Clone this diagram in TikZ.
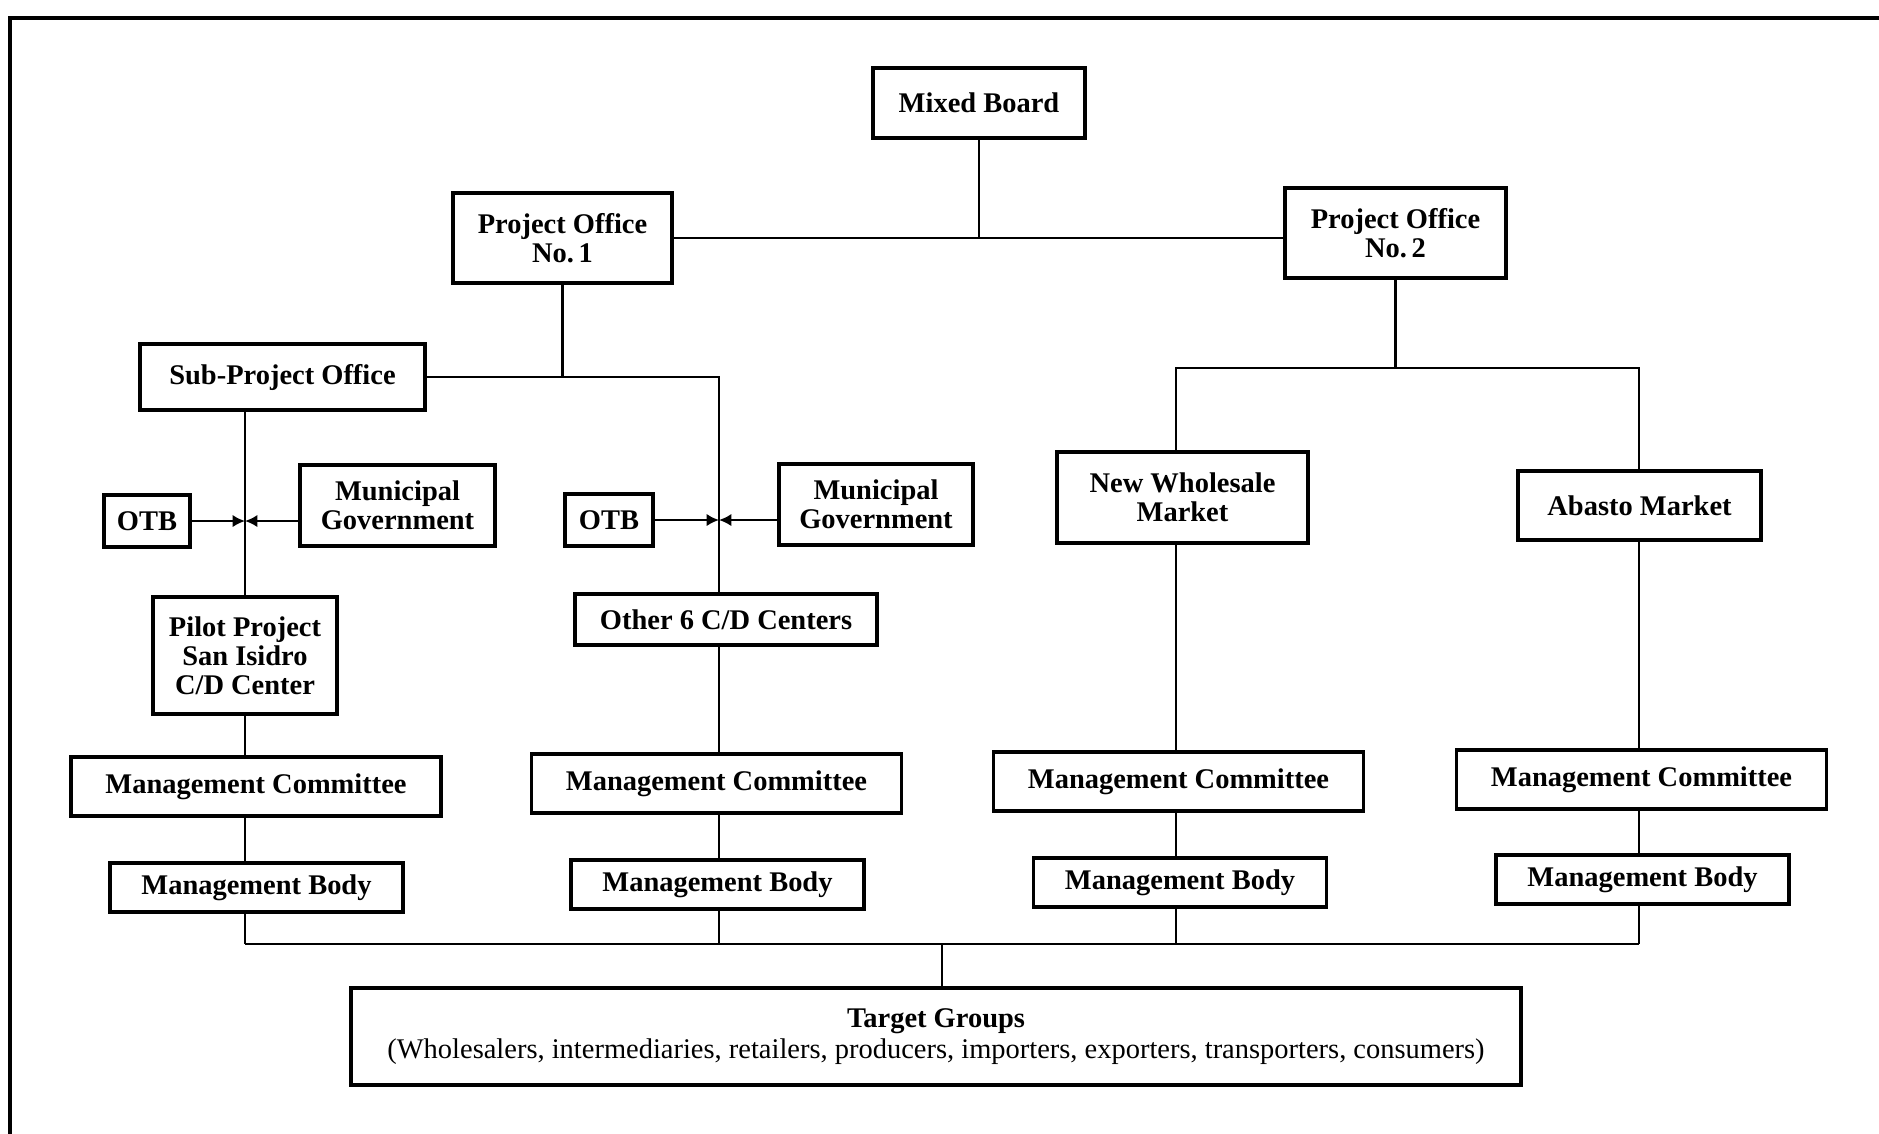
\documentclass[tikz,border=0pt]{standalone}
\usepackage{fontspec}
\setmainfont{Liberation Serif}
\usetikzlibrary{calc,positioning,arrows.meta}

\begin{document}
\begin{tikzpicture}[
  box/.style={draw, line width=0.9pt, inner sep=1pt, align=center,
    font=\fontsize{8.1}{8.3}\selectfont\bfseries},
  link/.style={line width=0.6pt},
  feed/.style={link, -{Latex[length=3.5pt,width=3.5pt]}}]
% page frame: 1 unit = 100 px of the scan, y runs downward
\useasboundingbox (0,0) rectangle (18.79,-11.33);
\draw[line width=1.3pt] (0.10,-11.40) -- (0.10,-0.18) -- (18.85,-0.18);
% Top of the chart
\node[box, minimum width=2.12cm, minimum height=0.70cm] (mixed) at (9.79,-1.03) {Mixed Board};
\node[box, minimum width=2.19cm, minimum height=0.90cm] (po1) at (5.625,-2.38) {Project Office\\No.\,1};
\node[box, minimum width=2.21cm, minimum height=0.90cm] (po2) at (13.955,-2.33) {Project Office\\No.\,2};
% Left branch: sub-project office and C/D centers
\node[box, minimum width=2.85cm, minimum height=0.66cm] (subpo) at (2.825,-3.77) {Sub-Project Office};
\node[box, minimum width=0.86cm, minimum height=0.52cm] (otbA) at (1.47,-5.21) {OTB};
\node[box, minimum width=1.95cm, minimum height=0.81cm] (munA) at (3.975,-5.055) {Municipal\\Government};
\node[box, minimum width=0.88cm, minimum height=0.52cm] (otbB) at (6.09,-5.20) {OTB};
\node[box, minimum width=1.94cm, minimum height=0.81cm] (munB) at (8.76,-5.045) {Municipal\\Government};
\node[box, minimum width=1.84cm, minimum height=1.17cm] (pilot) at (2.45,-6.555) {Pilot Project\\San Isidro\\C/D Center};
\node[box, minimum width=3.02cm, minimum height=0.51cm] (other6) at (7.26,-6.195) {Other 6 C/D Centers};
% Right branch: markets
\node[box, minimum width=2.51cm, minimum height=0.91cm] (nwm) at (11.825,-4.975) {New Wholesale\\Market};
\node[box, minimum width=2.43cm, minimum height=0.69cm] (abasto) at (16.395,-5.055) {Abasto Market};
% Committees and bodies, one per column
\foreach \i/\x/\y in {1/2.56/-7.865, 2/7.165/-7.835, 3/11.785/-7.815, 4/16.415/-7.795}
  \node[box, minimum width=3.70cm, minimum height=0.59cm] (mc\i) at (\x,\y) {Management Committee};
\foreach \i/\x/\y in {1/2.565/-8.875, 2/7.175/-8.845, 3/11.80/-8.825, 4/16.425/-8.795}
  \node[box, minimum width=2.93cm, minimum height=0.49cm] (mb\i) at (\x,\y) {Management Body};
\node[box, minimum width=11.70cm, minimum height=0.97cm, font=\fontsize{8.1}{8.9}\selectfont] (target) at (9.36,-10.365)
  {\textbf{Target Groups}\\(Wholesalers, intermediaries, retailers, producers, importers, exporters, transporters, consumers)};
% column lines and the bus at the bottom
\foreach \i/\x in {1/2.45, 2/7.19, 3/11.76, 4/16.39}
  \coordinate (col\i) at (\x,-9.44);
\coordinate (hubR) at (13.955,-3.68);
\coordinate (busT) at (9.42,-9.44);
\draw[link] (mixed.south) -- (mixed.south |- po1.east);
\draw[link] (po1.east) -- (po1.east -| po2.west);
\draw[link] (po1.south) -- (po1.south |- subpo.east);
\draw[link] (subpo.east) -- (col2 |- subpo.east) -- (col2 |- other6.north);
\draw[link] (col1 |- subpo.south) -- (pilot.north);
\draw[link] (po2.south) -- (hubR);
\draw[link] (col3 |- nwm.north) -- (col3 |- hubR) -- (col4 |- hubR) -- (col4 |- abasto.north);
% OTB and municipality feed into the line
\coordinate (jA) at (col1 |- otbA.east);
\coordinate (jB) at (col2 |- otbB.east);
\draw[feed] (otbA.east) -- (jA);
\draw[feed] (munA.west |- jA) -- (jA);
\draw[feed] (otbB.east) -- (jB);
\draw[feed] (munB.west |- jB) -- (jB);
% down to committees
\draw[link] (pilot.south) -- (col1 |- mc1.north);
\draw[link] (col2 |- other6.south) -- (col2 |- mc2.north);
\draw[link] (col3 |- nwm.south) -- (col3 |- mc3.north);
\draw[link] (col4 |- abasto.south) -- (col4 |- mc4.north);
\foreach \i in {1,...,4} {
  \draw[link] (col\i |- mc\i.south) -- (col\i |- mb\i.north);
  \draw[link] (col\i |- mb\i.south) -- (col\i);
}
\draw[link] (col1) -- (col4);
\draw[link] (busT) -- (busT |- target.north);
\end{tikzpicture}
\end{document}
